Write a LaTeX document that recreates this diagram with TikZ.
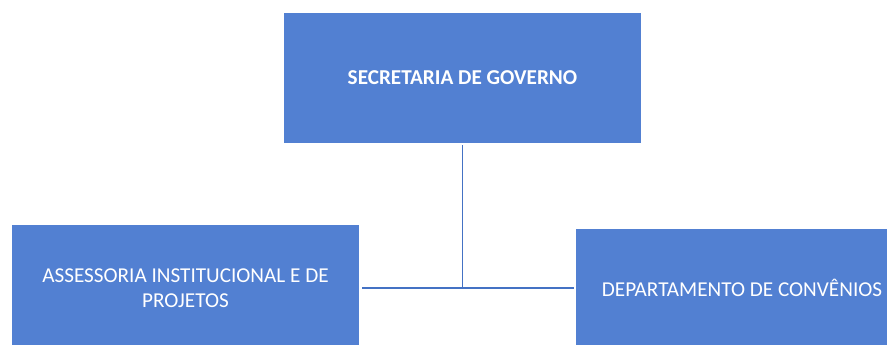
\documentclass[tikz,border=0pt]{standalone}
\usepackage{fontspec}
\setmainfont{Carlito}
\definecolor{boxblue}{RGB}{82,128,210}
\definecolor{lineblue}{RGB}{68,114,196}
\begin{document}
\begin{tikzpicture}[x=1pt,y=-1pt,
  orgbox/.style={fill=boxblue, draw=none, text=white, inner sep=0pt, align=center, font=\fontsize{21.2}{25}\selectfont},
  conn/.style={draw=lineblue, line width=1.6pt}]
\useasboundingbox (0,0) rectangle (887,345);
\node[orgbox, minimum width=357pt, minimum height=130pt, font=\fontsize{21.2}{25}\selectfont\bfseries] (sec) at (462.5,78) {SECRETARIA DE GOVERNO};
\node[orgbox, minimum width=347pt, minimum height=126pt] (ass) at (185.5,288) {ASSESSORIA INSTITUCIONAL E DE\\PROJETOS};
\node[orgbox, minimum width=332pt, minimum height=118pt] (dep) at (742,288) {DEPARTAMENTO DE CONVÊNIOS};
\coordinate (j) at (sec.south |- 0,288);
\draw[conn] ([yshift=-2pt]sec.south) -- (j);
\draw[conn] ([xshift=3pt]ass.east |- j) -- ([xshift=-2pt]dep.west |- j);
\end{tikzpicture}
\end{document}
